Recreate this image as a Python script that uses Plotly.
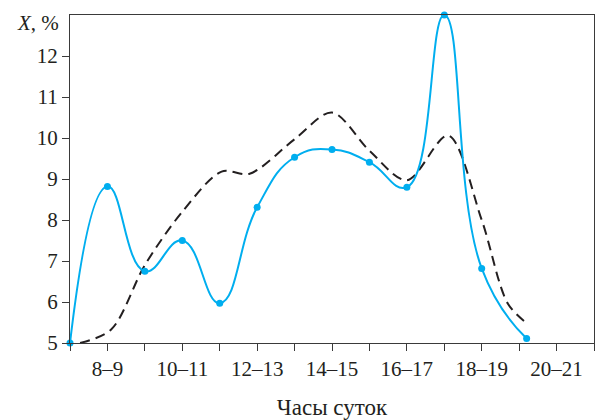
import plotly.graph_objects as go

# x positions in hour-slots (0 = 7–8, 1 = 8–9, ...)
blue_x = [0, 1, 2, 3, 4, 5, 6, 7, 8, 9, 10, 11, 12.2]
blue_y = [5.0, 8.82, 6.75, 7.5, 5.97, 8.31, 9.53, 9.72, 9.41, 8.8, 13.0, 6.82, 5.11]

dash_x = [0.27, 1.1, 2, 3, 4.05, 4.8, 6, 7, 8, 9, 10.1, 11, 11.7, 12.25]
dash_y = [5.0, 5.33, 6.9, 8.2, 9.18, 9.13, 9.97, 10.62, 9.69, 8.97, 10.06, 8.0, 5.96, 5.45]

x_tickvals = list(range(0, 15))
x_ticktext = ["", "8–9", "", "10–11", "", "12–13", "", "14–15", "", "16–17", "", "18–19", "", "20–21", ""]
y_tickvals = [5, 6, 7, 8, 9, 10, 11, 12]

BLUE = "#00AEEF"
BLACK = "#231F20"
AX = "#3a3a3a"
FONT = "Liberation Serif, Times New Roman, serif"

fig = go.Figure()
fig.add_trace(go.Scatter(
    x=dash_x, y=dash_y, mode="lines",
    line=dict(color=BLACK, width=2, dash="10px,6px", shape="spline", smoothing=0.9),
    showlegend=False, cliponaxis=False, hoverinfo="skip"))
fig.add_trace(go.Scatter(
    x=blue_x, y=blue_y, mode="lines+markers",
    line=dict(color=BLUE, width=2, shape="spline", smoothing=1.3),
    marker=dict(color=BLUE, size=7),
    showlegend=False, cliponaxis=False, hoverinfo="skip"))

fig.update_layout(
    width=598, height=420,
    margin=dict(l=70, r=4, t=15, b=77),
    paper_bgcolor="white", plot_bgcolor="white",
    font=dict(family=FONT, size=21, color="#231F20"),
    xaxis=dict(range=[0, 14], tickvals=x_tickvals, ticktext=x_ticktext,
               ticks="outside", ticklen=7, tickwidth=1, tickcolor=AX,
               showline=True, linecolor=AX, linewidth=1, mirror=True,
               showgrid=False, zeroline=False,
               title=dict(text="Часы суток", standoff=18, font=dict(size=23))),
    yaxis=dict(range=[5, 13], tickvals=y_tickvals,
               ticks="outside", ticklen=7, tickwidth=1, tickcolor=AX,
               showline=True, linecolor=AX, linewidth=1, mirror=True,
               showgrid=False, zeroline=False),
    annotations=[dict(text="<i>X</i>, %", xref="paper", yref="paper", x=0, y=1,
                      xanchor="right", yanchor="middle", xshift=-9, yshift=-8,
                      showarrow=False, font=dict(family=FONT, size=21))],
)

fig.write_html("out.html", config={"displayModeBar": False})

# remove the browser's default body margin so the figure sits at the page origin
with open("out.html", "r", encoding="utf-8") as f:
    html = f.read()
html = html.replace("<body>", '<body style="margin:0;padding:0;">', 1)
with open("out.html", "w", encoding="utf-8") as f:
    f.write(html)
